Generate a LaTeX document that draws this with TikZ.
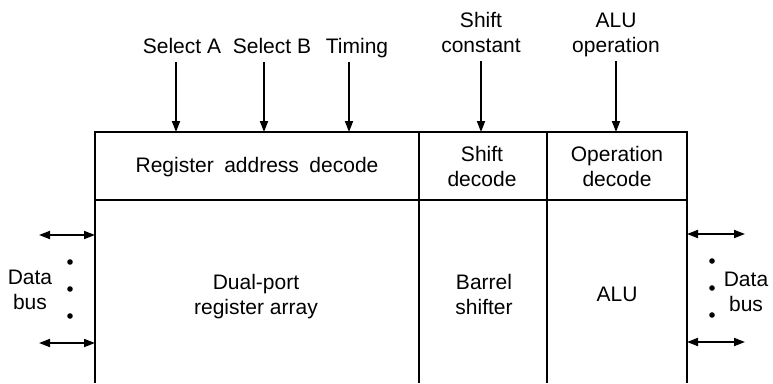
\documentclass[tikz,border=0pt]{standalone}
\usepackage{fontspec}
\setmainfont{Liberation Sans}
\usetikzlibrary{arrows.meta}
\begin{document}
\begin{tikzpicture}[x=1pt,y=-1pt,
  wall/.style={line width=2.8pt},
  sig/.style={line width=1.8pt,-{Triangle[length=11pt,width=8pt]},shorten <=8pt},
  bus/.style={line width=1.8pt,{Triangle[length=11pt,width=8pt]}-{Triangle[length=11pt,width=8pt]}},
  txt/.style={font=\fontsize{21}{25}\selectfont,align=center,inner sep=0pt,text depth=0pt,anchor=south}]
  \useasboundingbox (0,0) rectangle (773,383);
  \coordinate (A) at (95,132);
  \coordinate (B) at (419,132);
  \coordinate (C) at (547,132);
  \coordinate (D) at (687,132);
  \coordinate (E) at (95,200);
  \coordinate (F) at (687,200);
  \draw[wall] (95,383) -- (A) -- (D) -- (687,383);
  \draw[wall] (E) -- (F);
  \draw[wall] (B) -- (419,383);
  \draw[wall] (C) -- (547,383);
  \node[txt] (SA) at (182,54) {Select A};
  \node[txt] (SB) at (272,54) {Select B};
  \node[txt] (TM) at (357,54) {Timing};
  \node[txt] (SC) at (481,53) {Shift\\constant};
  \node[txt] (AO) at (616,53) {ALU\\operation};
  \coordinate (P1) at (176,132);
  \coordinate (P2) at (264,132);
  \coordinate (P3) at (349,132);
  \coordinate (P4) at (481,132);
  \coordinate (P5) at (616,132);
  \draw[sig] (SA.south -| P1) -- (P1);
  \draw[sig] (SB.south -| P2) -- (P2);
  \draw[sig] (TM.south -| P3) -- (P3);
  \draw[sig] (SC.south -| P4) -- (P4);
  \draw[sig] (AO.south -| P5) -- (P5);
  \node[txt] (RD) at (257,173) {Register\hspace{0.5em}address\hspace{0.5em}decode};
  \node[txt] (SD) at (482,187) {Shift\\decode};
  \node[txt] (OD) at (617,187) {Operation\\decode};
  \node[txt] (RA) at (256,315) {Dual-port\\register array};
  \node[txt] (BS) at (484,315) {Barrel\\shifter};
  \node[txt] (AL) at (617,302) {ALU};
  \node[txt] (DL) at (30,310) {Data\\bus};
  \node[txt] (DR) at (746,312) {Data\\bus};
  \coordinate (L1) at (39,235);
  \coordinate (L2) at (39,343);
  \coordinate (R1) at (745,234);
  \coordinate (R2) at (745,342);
  \draw[bus] (L1) -- (L1 -| A);
  \draw[bus] (L2) -- (L2 -| A);
  \draw[bus] (R1 -| D) -- (R1);
  \draw[bus] (R2 -| D) -- (R2);
  \foreach \y in {262,289,316} \fill (70,\y) circle (2.8pt);
  \foreach \y in {261,288,315} \fill (712,\y) circle (2.8pt);
\end{tikzpicture}
\end{document}
